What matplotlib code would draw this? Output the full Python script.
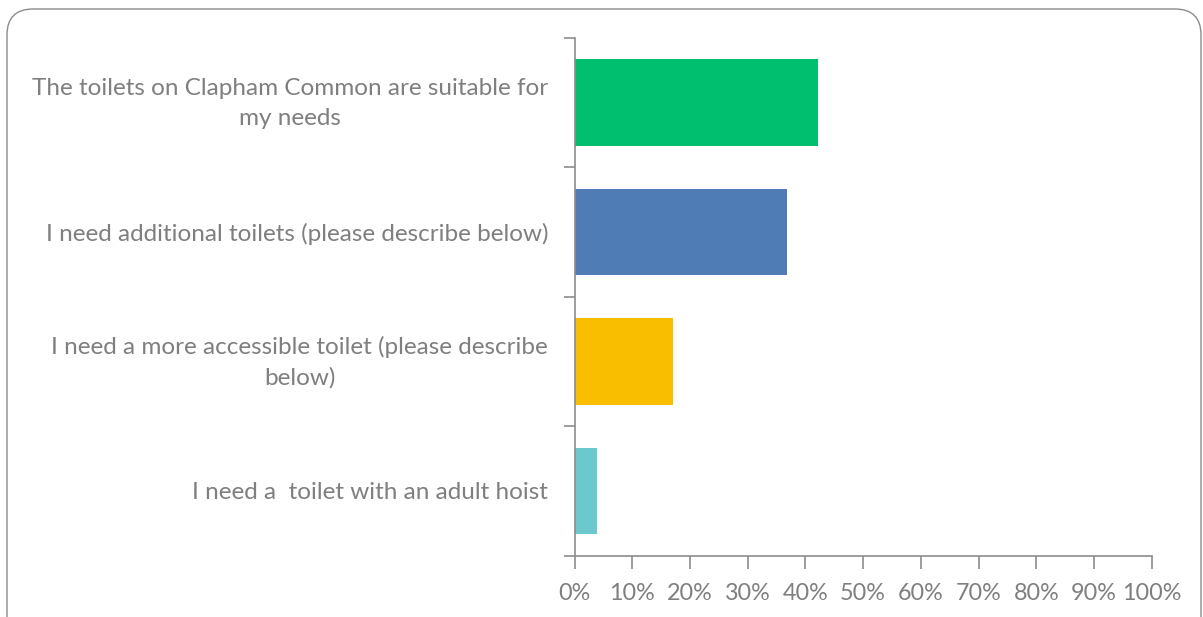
import matplotlib

matplotlib.use("Agg")
import matplotlib.pyplot as plt
from matplotlib.patches import FancyBboxPatch
from matplotlib.transforms import IdentityTransform, ScaledTranslation

categories = [
    "The toilets on Clapham Common are suitable for\nmy needs",
    "I need additional toilets (please describe below)",
    "I need a more accessible toilet (please describe\nbelow)",
    "I need a  toilet with an adult hoist",
]
values = [0.421, 0.368, 0.171, 0.039]
colors = ["#00BF6F", "#507CB6", "#F9BE00", "#6BC8CD"]
xticks = [0, 0.1, 0.2, 0.3, 0.4, 0.5, 0.6, 0.7, 0.8, 0.9, 1.0]
xtick_labels = ["0%", "10%", "20%", "30%", "40%", "50%", "60%", "70%", "80%", "90%", "100%"]

plt.rcParams["font.family"] = ["Lato", "DejaVu Sans"]
text_color = "#7F7F7F"
axis_color = "#8C8C8C"

fig = plt.figure(figsize=(12.03, 6.17), dpi=100)
ax = fig.add_axes([0.4776, 0.0994, 0.4798, 0.839])

pos = list(range(len(categories)))
ax.barh(pos, values, height=0.67, color=colors)
ax.set_ylim(len(categories) - 0.5, -0.5)
ax.set_xlim(0, 1)

ax.set_yticks([p - 0.5 for p in pos] + [len(categories) - 0.5])
ax.set_yticklabels([])
ax.set_yticks(pos, minor=True)
ax.set_yticklabels(categories, minor=True, ha="right", fontsize=17.5, color=text_color,
                   linespacing=1.55, multialignment="center")
ax.tick_params(axis="y", which="minor", length=0, pad=19)
ax.tick_params(axis="y", which="major", length=8, color=axis_color, width=1.2)

# two-line labels sit a little higher in the original
shift = ScaledTranslation(0, 6 / 100, fig.dpi_scale_trans)
for lbl in ax.get_yticklabels(minor=True):
    if "\n" in lbl.get_text():
        lbl.set_transform(lbl.get_transform() + shift)

ax.set_xticks(xticks)
ax.set_xticklabels(xtick_labels, fontsize=16.8, color=text_color)
ax.tick_params(axis="x", length=9, color=axis_color, width=1.2, pad=11)

for side in ["top", "right"]:
    ax.spines[side].set_visible(False)
for side in ["left", "bottom"]:
    ax.spines[side].set_color(axis_color)
    ax.spines[side].set_linewidth(1.2)

# rounded frame around the chart (runs past the bottom edge)
frame = FancyBboxPatch(
    (7, -30), 1194, 638,
    boxstyle="round,pad=0,rounding_size=26",
    transform=IdentityTransform(),
    facecolor="none", edgecolor="#8C8C8C", linewidth=1.0,
)
fig.patches.append(frame)

fig.savefig("out.png", dpi=100)
